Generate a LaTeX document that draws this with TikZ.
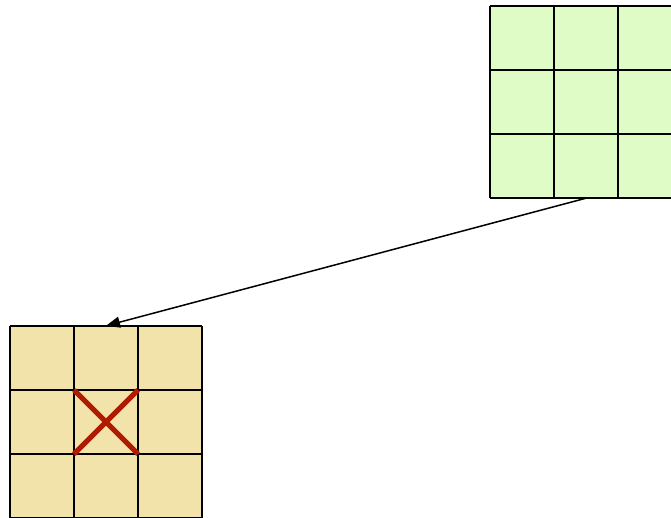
\documentclass[tikz,border=0pt]{standalone}
\usetikzlibrary{arrows.meta}
\definecolor{kernelgreen}{HTML}{E0FCC6}
\definecolor{cellsand}{HTML}{F2E3AA}
\definecolor{crossred}{HTML}{B01A00}
\tikzset{
  gridbox/.style={draw=none,inner sep=0pt,minimum size=192pt},
  gridline/.style={line width=2pt,black},
  pointer/.style={line width=1.5pt,-{Triangle[length=14pt,width=11pt]}}
}
\begin{document}
\begin{tikzpicture}[x=1pt,y=-1pt]
\useasboundingbox (0,0) rectangle (671,518);
\clip (0,0) rectangle (671,518);
% upper grid, its right column runs past the page edge
\node[gridbox,fill=kernelgreen] (upper) at (586,102) {};
\foreach \k in {0,1,2,3}
  {\draw[gridline] (490+64*\k,6) -- (490+64*\k,198);
   \draw[gridline] (490,6+64*\k) -- (682,6+64*\k);}
% lower grid
\node[gridbox,fill=cellsand] (lower) at (106,422) {};
\foreach \k in {0,1,2,3}
  {\draw[gridline] (10+64*\k,326) -- (10+64*\k,518);
   \draw[gridline] (10,326+64*\k) -- (202,326+64*\k);}
% crossed-out centre cell
\draw[line width=5pt,crossred] (74,390) -- (138,454);
\draw[line width=5pt,crossred] (74,454) -- (138,390);
% pointer from upper grid to lower grid
\draw[pointer] (upper.south) -- (lower.north);
\end{tikzpicture}
\end{document}
